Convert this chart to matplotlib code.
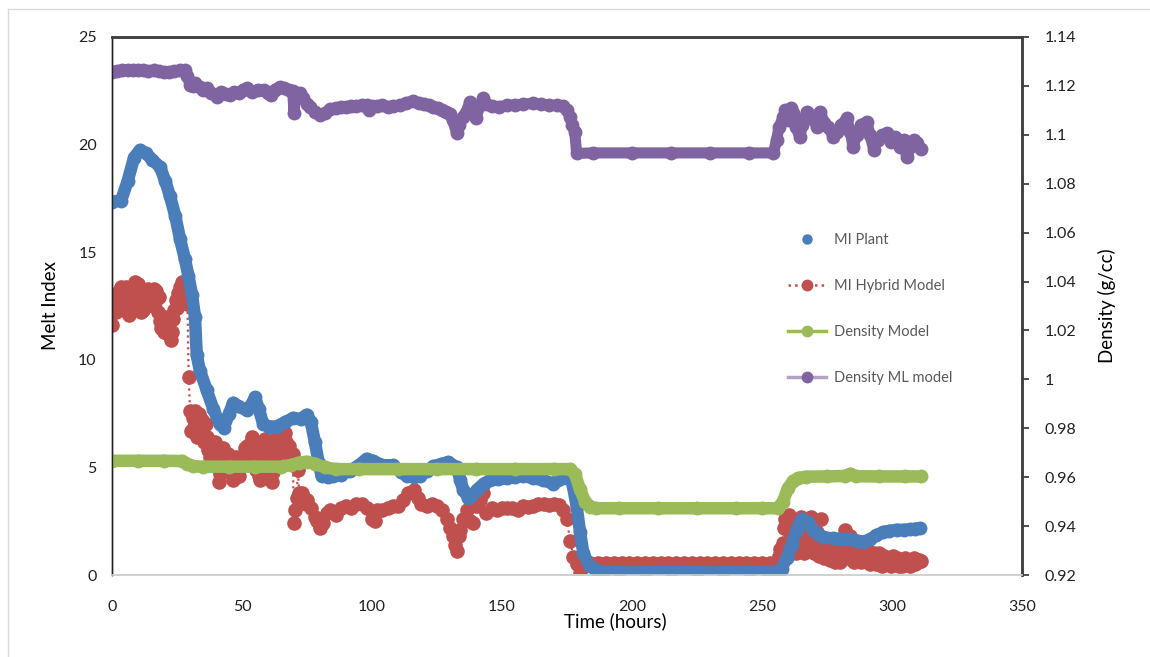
import numpy as np
import matplotlib
matplotlib.use("Agg")
import matplotlib.pyplot as plt
from matplotlib.lines import Line2D
from matplotlib.ticker import FuncFormatter

plt.rcParams['font.family'] = ['Lato', 'DejaVu Sans']

# MI Plant (left axis)
t_plant = [0, 3.5, 6, 8.5, 10.8, 13, 15.5, 18.5, 20.5, 22.3, 24.3, 26.2, 28, 29.4, 30.8, 31.9,
           32.6, 33.8, 36.4, 39, 41.5, 43, 45, 46.6, 48.5, 51.8, 53.5, 55, 56.5, 58.2, 60.5, 63.3,
           66.5, 69.7, 72.5, 74.9, 76.5, 78, 79.5, 80.6, 83, 85, 88, 91.5, 95, 97.9, 100.5, 104,
           108.2, 111, 113.3, 116, 118.5, 121, 123.6, 126.5, 129.4, 132.6, 134, 135.1, 137, 138.5,
           140.3, 143, 145.4, 148.5, 151.8, 155, 158.2, 162, 165.9, 169.7, 171.5, 173.6, 176.2, 177.5,
           178.7, 180, 181.3, 183.8, 186, 189, 195, 205, 215, 225, 235, 245, 252, 256,
           257.5, 259.5, 261.4, 263.3, 265.3, 267.5, 269.7, 271.5, 273.6, 277.4, 280.5, 283.8, 286.5, 289,
           291.5, 294, 296.7, 299, 301.8, 304.5, 306.9, 308.8, 310.8]
mi_plant = [17.35, 17.4, 18.3, 19.4, 19.75, 19.6, 19.3, 18.95, 18.3, 17.6, 16.7, 15.6, 14.7, 13.9, 13.0, 12.0,
            10.2, 9.5, 8.6, 7.7, 7.0, 6.85, 7.5, 8.0, 7.85, 7.65, 7.9, 8.25, 7.7, 7.0, 6.9, 6.9,
            7.1, 7.3, 7.25, 7.45, 7.1, 6.2, 5.2, 4.6, 4.55, 4.6, 4.65, 4.85, 5.1, 5.4, 5.3, 5.1,
            5.1, 4.8, 4.6, 4.55, 4.6, 4.85, 5.05, 5.15, 5.25, 5.0, 4.4, 3.95, 3.6, 3.7,
            3.95, 4.25, 4.4, 4.45, 4.5, 4.55, 4.6, 4.5, 4.4, 4.25, 4.4, 4.5, 4.6, 4.0,
            3.2, 2.0, 1.0, 0.4, 0.25, 0.15, 0.12, 0.12, 0.13, 0.12, 0.12, 0.13, 0.14, 0.15,
            0.3, 0.8, 1.4, 2.1, 2.6, 2.45, 2.1, 1.9, 1.75, 1.7, 1.68, 1.65, 1.6, 1.55,
            1.65, 1.85, 2.0, 2.05, 2.1, 2.1, 2.12, 2.15, 2.18]

# MI Hybrid Model (left axis), read in four stretches
t_hyb_a = np.arange(0, 29.01, 0.5)
mi_hyb_a = [11.6, 12.3, 12.8, 12.2, 12.9, 13.2, 12.5, 13.4, 13.0, 12.3,
            12.9, 13.4, 12.4, 12.1, 12.7, 13.1, 12.6, 13.3, 13.6, 12.9,
            13.5, 12.6, 12.2, 12.8, 12.3, 12.7, 13.2, 12.5, 13.3, 12.8,
            13.2, 12.6, 13.3, 12.7, 13.2, 12.2, 12.9, 11.8, 11.5, 12.0,
            11.3, 11.7, 12.0, 11.2, 11.5, 10.9, 11.3, 11.9, 12.3, 12.8,
            12.4, 13.1, 13.4, 12.9, 13.6, 12.9, 13.3, 12.8, 12.6]
t_hyb_b = np.concatenate([[29.5, 30], np.arange(30.5, 75.01, 0.5)])
mi_hyb_b = [9.2, 7.6,
            6.7, 7.3, 6.9, 7.6, 6.4, 7.0, 7.5, 6.6, 7.2, 6.9,
            6.2, 7.0, 6.4, 5.8, 5.5, 6.1, 5.9, 5.3, 6.2, 5.8,
            5.0, 4.3, 4.7, 5.0, 5.9, 5.6, 5.2, 4.9, 5.6, 5.4,
            4.8, 5.3, 4.4, 4.9, 5.5, 5.2, 4.7, 4.6, 5.1, 5.5,
            5.2, 5.9, 5.4, 6.0, 5.1, 5.4, 6.2, 6.4, 5.7, 5.3,
            4.9, 5.6, 4.6, 4.4, 5.2, 5.5, 6.0, 6.3, 5.6, 5.0,
            5.4, 4.7, 4.3, 4.8, 5.4, 5.9, 6.4, 6.1, 6.5, 5.9,
            6.3, 5.7, 6.6, 6.2, 5.8, 6.0, 5.6, 5.3, 5.6, 2.4,
            3.0, 3.6, 4.9, 3.8, 3.5, 3.8, 3.4, 3.6, 3.3, 3.5]
t_hyb_c = [76.5, 78, 79, 80, 81, 82.5, 84, 86, 88,
           90, 92, 94, 96, 98, 100, 101, 102, 104, 106, 108, 110, 112, 114, 116, 117.5, 119, 121, 123, 125,
           127, 128.7, 130, 131.3, 132, 132.6, 133.3, 133.8, 135, 136.4, 137.5, 139, 140.5, 141.5, 142.8, 144,
           146, 148, 150, 152, 154, 156, 158, 160, 162, 164, 166, 168, 170, 172, 173.5, 174.9, 176.2, 177.4,
           178.7, 180, 181, 184, 187, 190, 193, 196, 199, 202, 205, 208, 211, 214, 217, 220, 223, 226, 229,
           232, 235, 238, 241, 244, 247, 250, 253]
mi_hyb_c = [3.1, 2.7, 2.5, 2.2, 2.4, 2.9, 3.0, 2.8, 3.1,
            3.2, 3.1, 3.3, 3.3, 3.1, 2.6, 2.5, 3.0, 3.0, 3.1, 3.2, 3.2, 3.5, 3.8, 3.95, 3.6, 3.3, 3.2, 3.3, 3.2,
            3.0, 2.6, 2.2, 1.8, 1.4, 1.1, 1.8, 2.1, 2.6, 3.0, 2.5, 2.4, 3.2, 3.5, 3.8, 2.9,
            3.1, 3.0, 3.1, 3.1, 3.1, 3.0, 3.2, 3.15, 3.2, 3.3, 3.3, 3.25, 3.3, 3.25, 3.0, 2.6, 1.6, 0.85,
            0.5, 0.1, 0.55, 0.55, 0.55, 0.55, 0.55, 0.55, 0.55, 0.55, 0.55, 0.55, 0.55, 0.55, 0.55, 0.55, 0.55, 0.55, 0.55,
            0.55, 0.55, 0.55, 0.55, 0.55, 0.55, 0.55, 0.55]
t_hyb_d = np.arange(256, 311.01, 0.5)
mi_hyb_d = [0.6, 0.9, 1.2, 0.8, 1.5, 2.2, 2.6, 1.4, 2.1, 2.8,
            1.8, 1.1, 2.2, 1.6, 1.0, 2.0, 1.3, 2.4, 2.7, 1.5,
            1.0, 2.2, 1.7, 1.2, 2.6, 2.1, 2.7, 1.4, 1.0, 2.5,
            2.0, 1.1, 0.9, 2.6, 1.5, 1.0, 0.8, 1.2, 0.9, 1.1,
            0.7, 1.0, 0.8, 1.2, 0.6, 0.9, 1.0, 0.7, 0.6, 1.1,
            0.8, 1.4, 2.1, 1.6, 0.9, 1.3, 1.8, 0.7, 1.0, 0.6,
            1.2, 0.8, 1.5, 1.0, 0.6, 0.9, 1.4, 1.0, 0.7, 1.2,
            0.8, 0.5, 0.9, 0.6, 1.0, 0.7, 0.5, 0.8, 1.0, 0.6,
            0.4, 0.7, 0.9, 0.6, 0.5, 0.8, 0.6, 0.4, 0.7, 0.9,
            0.6, 0.5, 0.8, 0.4, 0.6, 0.7, 0.4, 0.6, 0.8, 0.5,
            0.7, 0.6, 0.4, 0.7, 0.6, 0.8, 0.5, 0.7, 0.6, 0.7,
            0.65]
t_hybrid = np.concatenate([t_hyb_a, t_hyb_b, t_hyb_c, t_hyb_d])
mi_hybrid = np.concatenate([mi_hyb_a, mi_hyb_b, mi_hyb_c, mi_hyb_d])

# Density Model (right axis)
t_dens = [0, 10, 20, 27, 29, 31, 35, 45, 55, 65, 69, 72, 75, 78, 82, 86, 95, 110, 125, 140, 155, 170,
          176, 178, 180, 182, 184, 186, 195, 210, 225, 240, 250, 256, 258, 260, 262, 264, 267, 275,
          282, 284, 286, 295, 305, 311]
dens_model = [0.9667, 0.9667, 0.9667, 0.9666, 0.9655, 0.9645, 0.9643, 0.9643, 0.9643, 0.9643, 0.9650, 0.9660,
              0.9663, 0.9655, 0.9640, 0.9633, 0.9633, 0.9633, 0.9633, 0.9633, 0.9633, 0.9633,
              0.9633, 0.9615, 0.9550, 0.9500, 0.9480, 0.9473, 0.9473, 0.9473, 0.9473, 0.9473, 0.9473, 0.9473,
              0.9500, 0.9555, 0.9585, 0.9597, 0.9602, 0.9603, 0.9605, 0.9614, 0.9604, 0.9603, 0.9603, 0.9603]

# Density ML model (right axis)
t_ml = [0, 2, 4, 6, 8, 10, 12, 14, 16, 18, 20, 22, 24, 26, 28, 29, 30, 31, 32, 33.8,
        35, 36.5, 38, 40.3, 42, 44, 45.5, 47, 49, 50.5, 52, 54, 56, 58.6, 60, 61, 62.5, 64.6, 66, 68,
        69.5, 70, 70.5, 72.3, 73.5, 75, 76.2, 78, 80, 82, 84, 86, 88, 90, 92, 94, 96, 98, 99, 100,
        102, 104, 106, 108, 110.8, 113, 115.9, 118, 120, 122, 123.6, 125.5, 127, 128.5, 130, 131, 132.6, 133.5, 135, 136,
        137.7, 139, 140, 141.5, 142.8, 144, 146, 149, 152, 155, 158, 162, 165, 168, 171, 173.6, 175, 176.2, 177, 178,
        178.7, 185, 200, 215, 230, 245, 254.4, 255.6, 256.5, 258.2, 259, 260, 261, 262, 263, 264.6, 265.5, 267.2, 268.5, 270,
        271, 272.3, 274, 275.5, 277.4, 279, 280.5, 282.6, 284, 285, 286.5, 288, 290.3, 291.5, 293, 294.5, 296, 298, 299.5, 301,
        303, 304.5, 305.6, 307, 308.5, 309.5, 311]
dens_ml = [1.1258, 1.1262, 1.1265, 1.1263, 1.1266, 1.1264, 1.1265, 1.1262, 1.1264, 1.1260, 1.1258, 1.1256, 1.1262, 1.1264, 1.1265, 1.1240, 1.1205, 1.1200, 1.1210, 1.1197,
           1.1185, 1.1190, 1.1170, 1.1156, 1.1175, 1.1168, 1.1163, 1.1175, 1.1172, 1.1185, 1.1190, 1.1175, 1.1185, 1.1183, 1.1170, 1.1163, 1.1185, 1.1197, 1.1190, 1.1185,
           1.1180, 1.1088, 1.1150, 1.1170, 1.1150, 1.1125, 1.1115, 1.1095, 1.1081, 1.1090, 1.1105, 1.1110, 1.1112, 1.1115, 1.1118, 1.1116, 1.1120, 1.1122, 1.1100, 1.1118,
           1.1118, 1.1120, 1.1115, 1.1118, 1.1122, 1.1130, 1.1140, 1.1130, 1.1125, 1.1120, 1.1115, 1.1110, 1.1100, 1.1092, 1.1085, 1.1060, 1.1006, 1.1040, 1.1074, 1.1090,
           1.1135, 1.1100, 1.1068, 1.1120, 1.1149, 1.1125, 1.1118, 1.1115, 1.1120, 1.1122, 1.1125, 1.1129, 1.1125, 1.1122, 1.1120, 1.1118, 1.1100, 1.1074, 1.1040, 1.1010,
           1.0924, 1.0926, 1.0926, 1.0926, 1.0926, 1.0926, 1.0926, 1.0979, 1.1030, 1.1074, 1.1101, 1.1060, 1.1110, 1.1090, 1.1030, 1.0992, 1.1040, 1.1095, 1.1080, 1.1060,
           1.1033, 1.1095, 1.1050, 1.1030, 1.0992, 1.1010, 1.1040, 1.1067, 1.1010, 1.0951, 1.1000, 1.1040, 1.1054, 1.1000, 1.0938, 1.0980, 1.1000, 1.1006, 1.0970, 1.0990,
           1.0951, 1.0980, 1.0911, 1.0950, 1.0980, 1.0965, 1.0944]

c_blue = '#4a7ebb'
c_red = '#c0504d'
c_green = '#9bbb59'
c_purple = '#8064a2'

fig = plt.figure(figsize=(11.5, 6.57), dpi=100)
ax = fig.add_axes([0.0974, 0.1248, 0.7913, 0.8189])
ax2 = ax.twinx()

ax.plot(t_hybrid, mi_hybrid, color=c_red, linestyle=':', lw=1.6, marker='o', ms=9.5, mec=c_red, zorder=2)
ax.plot(t_plant, mi_plant, color=c_blue, linestyle='-', lw=9, marker='o', ms=9, mec=c_blue,
        solid_capstyle='round', solid_joinstyle='round', zorder=3)
ax2.plot(t_dens, dens_model, color=c_green, linestyle='-', lw=9, marker='o', ms=9, mec=c_green,
         solid_capstyle='round', solid_joinstyle='round')
ax2.plot(t_ml, dens_ml, color=c_purple, linestyle='-', lw=8, marker='o', ms=9, mec=c_purple,
         solid_capstyle='round', solid_joinstyle='round')

ax.set_xlim(0, 350)
ax.set_ylim(0, 25)
ax2.set_ylim(0.92, 1.14)
ax.set_xticks(np.arange(0, 351, 50))
ax.set_yticks(np.arange(0, 26, 5))
ax2.set_yticks(np.arange(0.92, 1.1401, 0.02))
ax2.yaxis.set_major_formatter(FuncFormatter(lambda v, p: ('%.2f' % v).rstrip('0').rstrip('.')))

ax.tick_params(axis='y', length=0, pad=11, labelsize=11.5, colors='#222222')
ax.tick_params(axis='x', length=0, pad=18, labelsize=11.5, colors='#222222')
ax2.tick_params(axis='y', length=5, width=1.3, color='#404040', pad=11, labelsize=11.5, labelcolor='#222222')

for a in (ax, ax2):
    a.spines['top'].set_color('#404040')
    a.spines['top'].set_linewidth(1.8)
    a.spines['left'].set_color('#222222')
    a.spines['left'].set_linewidth(1.0)
    a.spines['right'].set_color('#404040')
    a.spines['right'].set_linewidth(1.8)
    a.spines['bottom'].set_color('#d0d0d0')
    a.spines['bottom'].set_linewidth(1.2)

ax.set_ylabel('Melt Index', fontsize=13.5, labelpad=14)
ax2.set_ylabel('Density (g/cc)', fontsize=13.5, labelpad=16)
fig.text(615 / 1150, 1 - 621 / 657, 'Time (hours)', ha='center', va='center', fontsize=13.5)

handles = [
    Line2D([], [], color=c_blue, linestyle='none', marker='o', ms=6.5),
    Line2D([], [], color=c_red, linestyle=':', lw=1.8, marker='o', ms=7.5),
    Line2D([], [], color=c_green, linestyle='-', lw=2.5, marker='o', ms=7.5),
    Line2D([], [], color='#b3a2c7', linestyle='-', lw=2.5, marker='o', ms=7.5, mfc=c_purple, mec=c_purple),
]
labels = ['MI Plant', 'MI Hybrid Model', 'Density Model', 'Density ML model']
leg = ax.legend(handles, labels, loc='upper left', bbox_to_anchor=(0.728, 0.66), frameon=False,
                fontsize=10.5, labelspacing=2.2, handlelength=2.6, handletextpad=0.6)
for txt in leg.get_texts():
    txt.set_color('#595959')

# light outer frame
fig.add_artist(Line2D([8 / 1150, 8 / 1150], [0, 1 - 9 / 657], transform=fig.transFigure, color='#d9d9d9', lw=1))
fig.add_artist(Line2D([8 / 1150, 1], [1 - 9 / 657, 1 - 9 / 657], transform=fig.transFigure, color='#d9d9d9', lw=1))

fig.savefig('out.png', dpi=100)
